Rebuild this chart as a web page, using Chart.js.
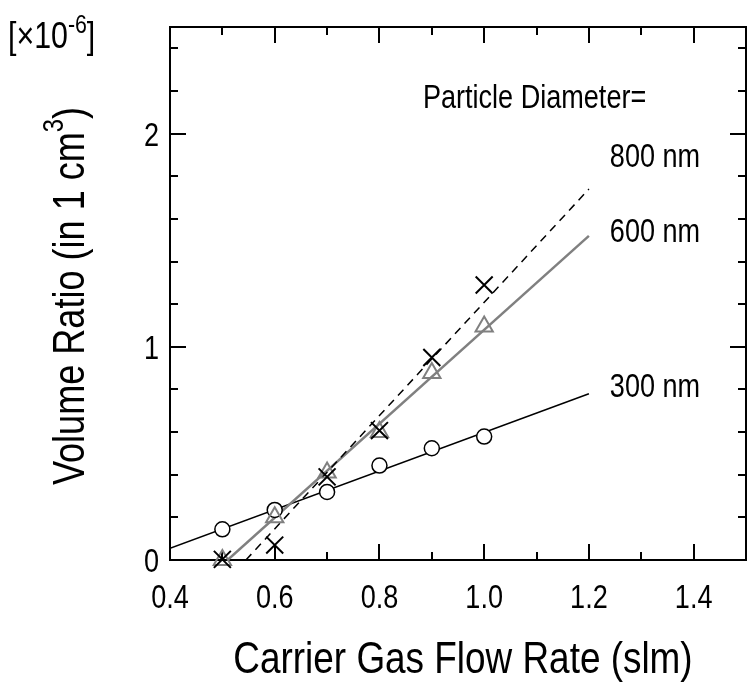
<!DOCTYPE html>
<html>
<head>
<meta charset="utf-8">
<script src="https://cdn.jsdelivr.net/npm/chart.js@4.4.0/dist/chart.umd.min.js"></script>
<style>
  html, body { margin: 0; padding: 0; background: #fff; overflow: hidden; }
  #wrap { width: 750px; height: 682px; overflow: hidden; }
</style>
</head>
<body>
<div id="wrap"><canvas id="chart" width="760" height="682"></canvas></div>
<script>
const FONT = "'Liberation Sans', Arial, sans-serif";
const NARROW = 0.82;   // squeeze Liberation Sans down to a narrow face
const GRAY = '#808080';

// measured volume ratios [x1e-6] against carrier gas flow rate [slm]
const flowRate = [0.5, 0.6, 0.7, 0.8, 0.9, 1.0];
const ratio300 = [0.144, 0.235, 0.319, 0.443, 0.524, 0.579];
const ratio600 = [0.0, 0.2, 0.41, 0.6, 0.877, 1.095];
const ratio800 = [0.003, 0.07, 0.39, 0.607, 0.95, 1.29];

// fitted lines (end points)
const fit300X = [0.4, 1.2];
const fit300Y = [0.055, 0.78];
const fit600X = [0.51, 1.2];
const fit600Y = [0.0, 1.52];
const fit800X = [0.545, 1.2];
const fit800Y = [0.0, 1.74];

// axis ticks
const xTicks = [0.4, 0.5, 0.6, 0.7, 0.8, 0.9, 1.0, 1.1, 1.2, 1.3, 1.4];
const xLabelled = [0.4, 0.6, 0.8, 1.0, 1.2, 1.4];
const yTicks = [0, 0.2, 0.4, 0.6, 0.8, 1.0, 1.2, 1.4, 1.6, 1.8, 2.0, 2.2, 2.4];
const yLabelled = [0, 1, 2];

const pts = (xs, ys) => xs.map((x, i) => ({ x: x, y: ys[i] }));

function fitLine(xs, ys, color, width, dash, order) {
    return {
        data: pts(xs, ys),
        showLine: true,
        borderColor: color,
        borderWidth: width,
        borderDash: dash,
        pointRadius: 0,
        pointHoverRadius: 0,
        order: order
    };
}

// draws a run of text pieces (some raised as superscripts), squeezed horizontally
function drawRich(ctx, parts, x, y, align) {
    let total = 0;
    parts.forEach(p => {
        ctx.font = p.size + 'px ' + FONT;
        p.w = ctx.measureText(p.text).width;
        total += p.w;
    });
    ctx.save();
    ctx.translate(x, y);
    ctx.scale(NARROW, 1);
    let cx = 0;
    if (align === 'center') cx = -total / 2;
    if (align === 'right') cx = -total;
    ctx.textAlign = 'left';
    ctx.textBaseline = 'alphabetic';
    parts.forEach(p => {
        ctx.font = p.size + 'px ' + FONT;
        ctx.fillText(p.text, cx, -(p.rise || 0));
        cx += p.w;
    });
    ctx.restore();
}

const framePlugin = {
    id: 'frame',
    beforeDatasetsDraw(chart) {
        const { ctx, chartArea: a, scales } = chart;
        ctx.save();
        ctx.strokeStyle = '#000';
        ctx.lineWidth = 2;
        ctx.strokeRect(a.left, a.top, a.right - a.left, a.bottom - a.top);
        ctx.beginPath();
        xTicks.forEach(v => {
            if (v === xTicks[0]) return;
            const px = Math.round(scales.x.getPixelForValue(v));
            const len = xLabelled.includes(v) ? 16 : 8;
            ctx.moveTo(px, a.bottom); ctx.lineTo(px, a.bottom - len);
            ctx.moveTo(px, a.top); ctx.lineTo(px, a.top + len);
        });
        yTicks.forEach(v => {
            if (v === yTicks[0]) return;
            const py = Math.round(scales.y.getPixelForValue(v));
            const len = yLabelled.includes(v) ? 16 : 8;
            ctx.moveTo(a.left, py); ctx.lineTo(a.left + len, py);
            ctx.moveTo(a.right, py); ctx.lineTo(a.right - len, py);
        });
        ctx.stroke();
        ctx.restore();
    },
    afterDraw(chart) {
        const { ctx, chartArea: a, scales } = chart;
        const xs = scales.x, ys = scales.y;
        ctx.save();
        ctx.fillStyle = '#000';

        // tick labels
        xLabelled.forEach(v => {
            drawRich(ctx, [{ text: v.toFixed(1), size: 33 }], xs.getPixelForValue(v), a.bottom + 48, 'center');
        });
        yLabelled.forEach(v => {
            drawRich(ctx, [{ text: String(v), size: 33 }], a.left - 11, ys.getPixelForValue(v) + 12, 'right');
        });

        // axis titles
        drawRich(ctx, [{ text: 'Carrier Gas Flow Rate (slm)', size: 45 }], 463, 673, 'center');
        ctx.save();
        ctx.translate(84, 296);
        ctx.rotate(-Math.PI / 2);
        drawRich(ctx, [
            { text: 'Volume Ratio (in 1 cm', size: 44 },
            { text: '3', size: 29, rise: 21 },
            { text: ')', size: 44 }
        ], 0, 0, 'center');
        ctx.restore();
        drawRich(ctx, [
            { text: '[\u00d710', size: 37 },
            { text: '-6', size: 26, rise: 15 },
            { text: ']', size: 37 }
        ], 8, 48, 'left');

        // series labels
        drawRich(ctx, [{ text: 'Particle Diameter=', size: 33 }], xs.getPixelForValue(0.883), ys.getPixelForValue(2.12), 'left');
        drawRich(ctx, [{ text: '800 nm', size: 33 }], xs.getPixelForValue(1.24), ys.getPixelForValue(1.843), 'left');
        drawRich(ctx, [{ text: '600 nm', size: 33 }], xs.getPixelForValue(1.24), ys.getPixelForValue(1.49), 'left');
        drawRich(ctx, [{ text: '300 nm', size: 33 }], xs.getPixelForValue(1.24), ys.getPixelForValue(0.765), 'left');
        ctx.restore();
    }
};

new Chart(document.getElementById('chart'), {
    type: 'scatter',
    data: {
        datasets: [
            {
                data: pts(flowRate, ratio800),
                pointStyle: 'crossRot',
                pointRadius: 12,
                pointBorderWidth: 2,
                borderColor: '#000',
                backgroundColor: '#000',
                clip: false,
                order: 1
            },
            {
                data: pts(flowRate, ratio600),
                pointStyle: 'triangle',
                pointRadius: 10,
                pointBorderWidth: 2,
                borderColor: GRAY,
                backgroundColor: 'rgba(0,0,0,0)',
                clip: false,
                order: 2
            },
            {
                data: pts(flowRate, ratio300),
                pointStyle: 'circle',
                pointRadius: 7.5,
                pointBorderWidth: 1.5,
                borderColor: '#000',
                backgroundColor: '#fff',
                clip: false,
                order: 3
            },
            fitLine(fit800X, fit800Y, '#000', 1.5, [8, 6], 4),
            fitLine(fit600X, fit600Y, GRAY, 2.5, [], 5),
            fitLine(fit300X, fit300Y, '#000', 1.5, [], 6)
        ]
    },
    options: {
        responsive: false,
        animation: false,
        events: [],
        layout: { padding: { top: 27, right: 5, left: 0, bottom: 0 } },
        plugins: { legend: { display: false }, tooltip: { enabled: false } },
        scales: {
            x: {
                type: 'linear',
                min: 0.4,
                max: 1.5,
                grid: { display: false, drawTicks: false },
                border: { display: false },
                ticks: { display: false },
                afterBuildTicks: s => { s.ticks = xTicks.map(v => ({ value: v })); },
                afterFit: s => { s.height = 122; }
            },
            y: {
                type: 'linear',
                min: 0,
                max: 2.5,
                grid: { display: false, drawTicks: false },
                border: { display: false },
                ticks: { display: false },
                afterBuildTicks: s => { s.ticks = yTicks.map(v => ({ value: v })); },
                afterFit: s => { s.width = 170; }
            }
        }
    },
    plugins: [framePlugin]
});
</script>
</body>
</html>
